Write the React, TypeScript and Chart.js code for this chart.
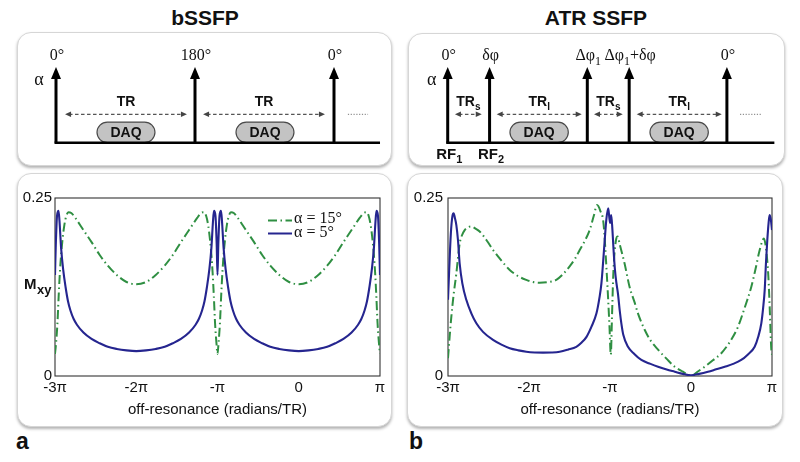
import React, { useEffect, useRef } from "react";
import { Chart, registerables } from "chart.js";
Chart.register(...registerables);

// ---------------- data ----------------
const panelTitles = ["bSSFP", "ATR SSFP"];
const panelLetters = ["a", "b"];
const xTickValues = [-3, -2, -1, 0, 1];
const xTickLabels = ["-3π", "-2π", "-π", "0", "π"];
const yTickValues = [0, 0.25];
const yTickLabels = ["0", "0.25"];
const seriesLabels = ["α = 15°", "α = 5°"];
const xAxisTitle = "off-resonance (radians/TR)";
const yAxisTitle = "M_xy";

// x in units of π, y = Mxy
const bssfpAlpha5: [number, number][] = [
  [-3, 0.142], [-2.99, 0.185], [-2.975, 0.225], [-2.957, 0.232], [-2.945, 0.218], [-2.925, 0.18], [-2.9, 0.15], [-2.87, 0.125], [-2.84, 0.105], [-2.81, 0.092], [-2.77, 0.08], [-2.73, 0.072], [-2.65, 0.061], [-2.55, 0.052], [-2.45, 0.046], [-2.35, 0.041], [-2.24, 0.038], [-2.12, 0.036], [-2, 0.035],
  [-1.88, 0.036], [-1.76, 0.038], [-1.65, 0.041], [-1.55, 0.046], [-1.45, 0.052], [-1.35, 0.061], [-1.27, 0.072], [-1.23, 0.08], [-1.19, 0.092], [-1.16, 0.105], [-1.13, 0.125], [-1.1, 0.15], [-1.075, 0.18], [-1.055, 0.218], [-1.043, 0.232], [-1.025, 0.225], [-1.01, 0.185], [-1, 0.142],
  [-0.99, 0.185], [-0.975, 0.225], [-0.957, 0.232], [-0.945, 0.218], [-0.925, 0.18], [-0.9, 0.15], [-0.87, 0.125], [-0.84, 0.105], [-0.81, 0.092], [-0.77, 0.08], [-0.73, 0.072], [-0.65, 0.061], [-0.55, 0.052], [-0.45, 0.046], [-0.35, 0.041], [-0.24, 0.038], [-0.12, 0.036], [0, 0.035],
  [0.12, 0.036], [0.24, 0.038], [0.35, 0.041], [0.45, 0.046], [0.55, 0.052], [0.65, 0.061], [0.73, 0.072], [0.77, 0.08], [0.81, 0.092], [0.84, 0.105], [0.87, 0.125], [0.9, 0.15], [0.925, 0.18], [0.945, 0.218], [0.957, 0.232], [0.975, 0.225], [0.99, 0.185], [1, 0.142],
];

const bssfpAlpha15: [number, number][] = [
  [-3, 0.031], [-2.988, 0.045], [-2.97, 0.074], [-2.955, 0.112], [-2.94, 0.145], [-2.925, 0.17], [-2.908, 0.191], [-2.885, 0.212], [-2.86, 0.225], [-2.835, 0.23], [-2.8, 0.229], [-2.75, 0.222], [-2.65, 0.205], [-2.55, 0.188], [-2.45, 0.17], [-2.35, 0.155], [-2.24, 0.142], [-2.12, 0.132], [-2, 0.129],
  [-1.88, 0.132], [-1.76, 0.142], [-1.65, 0.155], [-1.55, 0.17], [-1.45, 0.188], [-1.35, 0.205], [-1.25, 0.222], [-1.2, 0.229], [-1.165, 0.23], [-1.14, 0.225], [-1.115, 0.212], [-1.092, 0.191], [-1.075, 0.17], [-1.06, 0.145], [-1.045, 0.112], [-1.03, 0.074], [-1.012, 0.045], [-1, 0.031],
  [-0.988, 0.045], [-0.97, 0.074], [-0.955, 0.112], [-0.94, 0.145], [-0.925, 0.17], [-0.908, 0.191], [-0.885, 0.212], [-0.86, 0.225], [-0.835, 0.23], [-0.8, 0.229], [-0.75, 0.222], [-0.65, 0.205], [-0.55, 0.188], [-0.45, 0.17], [-0.35, 0.155], [-0.24, 0.142], [-0.12, 0.132], [0, 0.129],
  [0.12, 0.132], [0.24, 0.142], [0.35, 0.155], [0.45, 0.17], [0.55, 0.188], [0.65, 0.205], [0.75, 0.222], [0.8, 0.229], [0.835, 0.23], [0.86, 0.225], [0.885, 0.212], [0.908, 0.191], [0.925, 0.17], [0.94, 0.145], [0.955, 0.112], [0.97, 0.074], [0.988, 0.045], [1, 0.031],
];

const atrAlpha5: [number, number][] = [
  [-3, 0.107], [-2.985, 0.15], [-2.965, 0.2], [-2.945, 0.225], [-2.93, 0.2285], [-2.915, 0.222], [-2.897, 0.212], [-2.877, 0.191], [-2.856, 0.158], [-2.823, 0.13], [-2.774, 0.107], [-2.712, 0.088], [-2.65, 0.074], [-2.568, 0.062], [-2.444, 0.0506], [-2.34, 0.044], [-2.238, 0.039], [-2.13, 0.036], [-2.033, 0.034], [-1.93, 0.033], [-1.827, 0.0328], [-1.72, 0.033], [-1.621, 0.034], [-1.52, 0.037], [-1.416, 0.041], [-1.35, 0.047], [-1.29, 0.055], [-1.23, 0.069], [-1.167, 0.088], [-1.13, 0.11], [-1.106, 0.13], [-1.085, 0.16], [-1.065, 0.191], [-1.045, 0.22], [-1.022, 0.2355], [-1.008, 0.222], [-0.998, 0.215], [-0.985, 0.226], [-0.97, 0.205], [-0.955, 0.175], [-0.938, 0.148], [-0.92, 0.13], [-0.901, 0.115], [-0.88, 0.092], [-0.86, 0.074], [-0.836, 0.058], [-0.778, 0.041], [-0.7, 0.031], [-0.613, 0.0225], [-0.5, 0.017], [-0.407, 0.013], [-0.3, 0.009], [-0.201, 0.006], [-0.1, 0.003], [0, 0.001], [0.1, 0.003], [0.21, 0.006], [0.3, 0.009], [0.416, 0.013], [0.52, 0.017], [0.62, 0.0225], [0.7, 0.03], [0.786, 0.041], [0.83, 0.055], [0.868, 0.074], [0.89, 0.095], [0.91, 0.121], [0.926, 0.16], [0.942, 0.191], [0.958, 0.215], [0.97, 0.226], [0.985, 0.22], [1, 0.205],
];

const atrAlpha15: [number, number][] = [
  [-3, 0.025], [-2.98, 0.055], [-2.959, 0.083], [-2.93, 0.115], [-2.897, 0.144], [-2.875, 0.168], [-2.856, 0.186], [-2.83, 0.197], [-2.794, 0.205], [-2.75, 0.209], [-2.712, 0.21], [-2.66, 0.207], [-2.609, 0.203], [-2.52, 0.19], [-2.444, 0.177], [-2.34, 0.162], [-2.238, 0.149], [-2.13, 0.14], [-2.033, 0.135], [-1.95, 0.132], [-1.868, 0.131], [-1.76, 0.132], [-1.663, 0.135], [-1.58, 0.143], [-1.498, 0.154], [-1.43, 0.165], [-1.374, 0.177], [-1.31, 0.19], [-1.251, 0.205], [-1.2, 0.225], [-1.16, 0.24], [-1.12, 0.232], [-1.08, 0.214], [-1.04, 0.144], [-1.008, 0.074], [-0.99, 0.03], [-0.975, 0.085], [-0.959, 0.144], [-0.926, 0.191], [-0.905, 0.196], [-0.88, 0.185], [-0.82, 0.158], [-0.758, 0.125], [-0.695, 0.103], [-0.655, 0.088], [-0.572, 0.065], [-0.5, 0.05], [-0.407, 0.037], [-0.3, 0.024], [-0.201, 0.013], [-0.1, 0.006], [0, 0], [0.08, 0.006], [0.169, 0.013], [0.27, 0.022], [0.374, 0.032], [0.48, 0.048], [0.58, 0.069], [0.66, 0.095], [0.744, 0.125], [0.8, 0.152], [0.848, 0.177], [0.9, 0.193], [0.93, 0.175], [0.955, 0.14], [0.972, 0.095], [0.99, 0.04], [1, 0.03],
];

// pulse-sequence diagrams (time in units of TR)
const bssfpPulseTimes = [0, 1, 2];
const bssfpPulseLabels = ["0°", "180°", "0°"];
const bssfpIntervals: [number, number][] = [[0.065, 0.942], [1.058, 1.935]];
const bssfpIntervalLabels = ["TR", "TR"];
const bssfpDaq: [number, number][] = [[0.295, 0.712], [1.295, 1.712]];
const bssfpDots: [number, number] = [2.1, 2.245];
const bssfpBaseEnd = 2.331;

const atrPulseTimes = [0, 0.3, 1.0, 1.3, 2.0];
const atrPulseLabels = ["0°", "δφ", "Δφ_1", "Δφ_1+δφ", "0°"];
const atrIntervals: [number, number][] = [[0.052, 0.244], [0.351, 0.96], [1.048, 1.254], [1.354, 1.963]];
const atrIntervalLabels = ["TR_s", "TR_l", "TR_s", "TR_l"];
const atrDaq: [number, number][] = [[0.446, 0.864], [1.449, 1.867]];
const atrDots: [number, number] = [2.094, 2.249];
const atrBaseEnd = 2.34;
const atrRfPulses = [0, 1];
const atrRfLabels = ["RF_1", "RF_2"];
const flipLabel = "α";
const daqLabel = "DAQ";

// ---------------- styles ----------------
const BLUE = "#25258f";
const GREEN = "#2f8f42";
const SANS = "'Liberation Sans', Arial, sans-serif";
const SERIF = "'Liberation Serif', 'Times New Roman', serif";

function drawRich(ctx: CanvasRenderingContext2D, text: string, x: number, y: number, size: number, family: string, weight: string, align: "center" | "left") {
  const parts: { t: string; sub: boolean }[] = [];
  let buf = "";
  for (let i = 0; i < text.length; i++) {
    if (text[i] === "_" && i + 1 < text.length) {
      if (buf) parts.push({ t: buf, sub: false });
      buf = "";
      parts.push({ t: text[i + 1], sub: true });
      i++;
    } else buf += text[i];
  }
  if (buf) parts.push({ t: buf, sub: false });
  const mainF = `${weight} ${size}px ${family}`;
  const subF = `${weight} ${Math.round(size * 0.72)}px ${family}`;
  let w = 0;
  for (const p of parts) {
    ctx.font = p.sub ? subF : mainF;
    w += ctx.measureText(p.t).width;
  }
  let cx = align === "center" ? x - w / 2 : x;
  ctx.textAlign = "left";
  ctx.textBaseline = "alphabetic";
  for (const p of parts) {
    ctx.font = p.sub ? subF : mainF;
    ctx.fillText(p.t, cx, p.sub ? y + size * 0.28 : y);
    cx += ctx.measureText(p.t).width;
  }
}

type DiagramCfg = {
  pulses: number[];
  labels: string[];
  intervals: [number, number][];
  intervalLabels: string[];
  daq: [number, number][];
  dots: [number, number];
  baseEnd: number;
  alphaX: number;
  rfPulses?: number[];
  rfLabels?: string[];
};

function diagramPlugin(cfg: DiagramCfg) {
  return {
    id: "pulseDiagram",
    afterDraw(chart: any) {
      const ctx: CanvasRenderingContext2D = chart.ctx;
      const X = (v: number) => chart.scales.x.getPixelForValue(v);
      const Y = (v: number) => chart.scales.y.getPixelForValue(v);
      ctx.save();
      // DAQ pills
      cfg.daq.forEach(([a, b]) => {
        const x0 = X(a), x1 = X(b), y0 = Y(0.273), y1 = Y(0);
        const r = (y1 - y0) / 2;
        ctx.beginPath();
        ctx.moveTo(x0 + r, y0);
        ctx.lineTo(x1 - r, y0);
        ctx.arc(x1 - r, y0 + r, r, -Math.PI / 2, Math.PI / 2);
        ctx.lineTo(x0 + r, y1);
        ctx.arc(x0 + r, y0 + r, r, Math.PI / 2, Math.PI * 1.5);
        ctx.closePath();
        ctx.fillStyle = "#c3c3c3";
        ctx.fill();
        ctx.lineWidth = 1.2;
        ctx.strokeStyle = "#4a4a4a";
        ctx.stroke();
        ctx.fillStyle = "#111";
        ctx.font = `bold 14px ${SANS}`;
        ctx.textAlign = "center";
        ctx.textBaseline = "middle";
        ctx.fillText(daqLabel, (x0 + x1) / 2, (y0 + y1) / 2 + 0.5);
      });
      // baseline
      ctx.strokeStyle = "#000";
      ctx.lineWidth = 2.6;
      ctx.lineCap = "butt";
      ctx.beginPath();
      ctx.moveTo(X(0) - 1.5, Y(0));
      ctx.lineTo(X(cfg.baseEnd), Y(0));
      ctx.stroke();
      // pulses
      cfg.pulses.forEach((t, i) => {
        const x = X(t);
        const tip = Y(1);
        ctx.lineWidth = 3;
        ctx.strokeStyle = "#000";
        ctx.beginPath();
        ctx.moveTo(x, Y(0));
        ctx.lineTo(x, tip + 10);
        ctx.stroke();
        ctx.fillStyle = "#000";
        ctx.beginPath();
        ctx.moveTo(x, tip);
        ctx.lineTo(x - 5, tip + 12);
        ctx.lineTo(x + 5, tip + 12);
        ctx.closePath();
        ctx.fill();
        ctx.fillStyle = "#111";
        drawRich(ctx, cfg.labels[i], x + 1, Y(1.092), 16, SERIF, "normal", "center");
      });
      // alpha
      ctx.fillStyle = "#111";
      drawRich(ctx, flipLabel, X(cfg.alphaX), Y(0.762), 18, SERIF, "normal", "center");
      // interval arrows
      cfg.intervals.forEach(([a, b], i) => {
        const x0 = X(a), x1 = X(b), y = Y(0.375);
        ctx.strokeStyle = "#555";
        ctx.fillStyle = "#444";
        ctx.lineWidth = 1.2;
        ctx.setLineDash([3.5, 2.5]);
        ctx.beginPath();
        ctx.moveTo(x0 + 4, y);
        ctx.lineTo(x1 - 4, y);
        ctx.stroke();
        ctx.setLineDash([]);
        ctx.beginPath();
        ctx.moveTo(x0, y);
        ctx.lineTo(x0 + 6, y - 2.8);
        ctx.lineTo(x0 + 6, y + 2.8);
        ctx.closePath();
        ctx.fill();
        ctx.beginPath();
        ctx.moveTo(x1, y);
        ctx.lineTo(x1 - 6, y - 2.8);
        ctx.lineTo(x1 - 6, y + 2.8);
        ctx.closePath();
        ctx.fill();
        ctx.fillStyle = "#111";
        drawRich(ctx, cfg.intervalLabels[i], (x0 + x1) / 2, Y(0.485), 14, SANS, "bold", "center");
      });
      // continuation dots
      ctx.strokeStyle = "#777";
      ctx.lineWidth = 1;
      ctx.setLineDash([1.2, 1.6]);
      ctx.beginPath();
      ctx.moveTo(X(cfg.dots[0]), Y(0.375));
      ctx.lineTo(X(cfg.dots[1]), Y(0.375));
      ctx.stroke();
      ctx.setLineDash([]);
      // RF labels
      if (cfg.rfPulses && cfg.rfLabels) {
        ctx.fillStyle = "#111";
        cfg.rfPulses.forEach((pi, i) => {
          drawRich(ctx, cfg.rfLabels![i], X(cfg.pulses[pi]) + 1.5, Y(-0.215), 15, SANS, "bold", "center");
        });
      }
      ctx.restore();
    },
  };
}

const framePlugin = {
  id: "plotFrame",
  beforeDatasetsDraw(chart: any) {
    const { ctx, chartArea: a } = chart;
    ctx.save();
    ctx.strokeStyle = "#333";
    ctx.lineWidth = 1.1;
    ctx.strokeRect(a.left, a.top, a.right - a.left, a.bottom - a.top);
    ctx.restore();
  },
};

const legendPlugin = {
  id: "inlineLegend",
  afterDatasetsDraw(chart: any) {
    const { ctx, chartArea: a } = chart;
    ctx.save();
    chart.data.datasets.forEach((ds: any, i: number) => {
      const y = a.top + 22.5 + i * 13;
      ctx.strokeStyle = ds.borderColor;
      ctx.lineWidth = 2;
      ctx.setLineDash(ds.borderDash || []);
      ctx.beginPath();
      ctx.moveTo(a.left + 213, y);
      ctx.lineTo(a.left + 237, y);
      ctx.stroke();
      ctx.setLineDash([]);
      ctx.fillStyle = "#111";
      ctx.font = `16px ${SERIF}`;
      ctx.textAlign = "left";
      ctx.textBaseline = "alphabetic";
      ctx.fillText(ds.label, a.left + 239, y + 2 + i * 1.5);
    });
    ctx.restore();
  },
};

const mxyPlugin = {
  id: "mxyLabel",
  afterDraw(chart: any) {
    const { ctx, chartArea: a } = chart;
    ctx.save();
    ctx.fillStyle = "#111";
    ctx.textAlign = "left";
    ctx.textBaseline = "alphabetic";
    ctx.font = `bold 15px ${SANS}`;
    const [m, sub] = yAxisTitle.split("_");
    const x = a.left - 31;
    const y = a.top + 91;
    ctx.fillText(m, x, y);
    const w = ctx.measureText(m).width;
    ctx.font = `bold 13px ${SANS}`;
    ctx.fillText(sub, x + w + 0.5, y + 5);
    ctx.restore();
  },
};

type PlotProps = {
  left: number; top: number; w: number; h: number;
  yWidth: number; padRight: number; yPad: number;
  a15: [number, number][]; a5: [number, number][];
  legend: boolean; mxy: boolean;
};

function PlotChart(p: PlotProps) {
  const ref = useRef<HTMLCanvasElement>(null);
  useEffect(() => {
    const plugins: any[] = [framePlugin];
    if (p.legend) plugins.push(legendPlugin);
    if (p.mxy) plugins.push(mxyPlugin);
    const chart = new Chart(ref.current!, {
      type: "line",
      data: {
        datasets: [
          {
            label: seriesLabels[0],
            data: p.a15.map(([x, y]) => ({ x, y })),
            borderColor: GREEN,
            borderWidth: 2,
            borderDash: [9, 3.5, 1.5, 3.5],
            pointRadius: 0,
            cubicInterpolationMode: "monotone",
            fill: false,
            order: 2,
          },
          {
            label: seriesLabels[1],
            data: p.a5.map(([x, y]) => ({ x, y })),
            borderColor: BLUE,
            borderWidth: 2.1,
            pointRadius: 0,
            cubicInterpolationMode: "monotone",
            fill: false,
            order: 1,
          },
        ] as any,
      },
      options: {
        responsive: false,
        animation: false,
        events: [],
        layout: { padding: { top: 25, right: p.padRight, left: 0, bottom: 0 } },
        plugins: { legend: { display: false }, tooltip: { enabled: false }, title: { display: false } },
        scales: {
          x: {
            type: "linear",
            min: -3,
            max: 1,
            grid: { display: false, drawTicks: false },
            border: { display: false },
            afterBuildTicks: (s: any) => { s.ticks = xTickValues.map((v) => ({ value: v })); },
            afterFit: (s: any) => { s.height = 51; },
            ticks: {
              padding: 3,
              color: "#111",
              font: { family: SANS, size: 15 },
              maxRotation: 0,
              autoSkip: false,
              callback: (v: any) => xTickLabels[xTickValues.indexOf(Number(v))] ?? "",
            },
            title: {
              display: true,
              text: xAxisTitle,
              color: "#111",
              font: { family: SANS, size: 15 },
              padding: { top: 0, bottom: 8 },
            },
          },
          y: {
            type: "linear",
            min: 0,
            max: 0.25,
            grid: { display: false, drawTicks: false },
            border: { display: false },
            afterBuildTicks: (s: any) => { s.ticks = yTickValues.map((v) => ({ value: v })); },
            afterFit: (s: any) => { s.width = p.yWidth; },
            ticks: {
              padding: p.yPad,
              color: "#111",
              font: { family: SANS, size: 15 },
              autoSkip: false,
              callback: (v: any) => yTickLabels[yTickValues.indexOf(Number(v))] ?? "",
            },
          },
        },
      } as any,
      plugins,
    });
    return () => chart.destroy();
  }, []);
  return (
    <canvas
      ref={ref}
      width={p.w}
      height={p.h}
      style={{ position: "absolute", left: p.left, top: p.top, width: p.w, height: p.h }}
    />
  );
}

type DiagramProps = {
  left: number; top: number; w: number; h: number;
  x0px: number; pxPerUnit: number; baseYpx: number; pxPerY: number;
  cfg: DiagramCfg;
};

function DiagramChart(p: DiagramProps) {
  const ref = useRef<HTMLCanvasElement>(null);
  useEffect(() => {
    const xmin = -(p.x0px - p.left) / p.pxPerUnit;
    const xmax = xmin + p.w / p.pxPerUnit;
    const ymax = (p.baseYpx - p.top) / p.pxPerY;
    const ymin = ymax - p.h / p.pxPerY;
    const chart = new Chart(ref.current!, {
      type: "line",
      data: { datasets: [] },
      options: {
        responsive: false,
        animation: false,
        events: [],
        layout: { padding: 0 },
        plugins: { legend: { display: false }, tooltip: { enabled: false } },
        scales: {
          x: { type: "linear", display: false, min: xmin, max: xmax },
          y: { type: "linear", display: false, min: ymin, max: ymax },
        },
      } as any,
      plugins: [diagramPlugin(p.cfg)],
    });
    return () => chart.destroy();
  }, []);
  return (
    <canvas
      ref={ref}
      width={p.w}
      height={p.h}
      style={{ position: "absolute", left: p.left, top: p.top, width: p.w, height: p.h }}
    />
  );
}

const boxStyle = (left: number, top: number, w: number, h: number): React.CSSProperties => ({
  position: "absolute",
  left,
  top,
  width: w - 2,
  height: h - 2,
  border: "1px solid #d6d6d6",
  borderRadius: 14,
  background: "#fff",
  boxShadow: "0 2px 3px rgba(0,0,0,0.30)",
});

export default function App() {
  return (
    <div style={{ position: "absolute", left: 0, top: 0, width: 800, height: 462, background: "#fff", overflow: "hidden", fontFamily: SANS }}>
      <div style={{ position: "absolute", left: 105, top: 7, width: 200, textAlign: "center", font: `bold 21px ${SANS}`, lineHeight: "21px", color: "#111" }}>{panelTitles[0]}</div>
      <div style={{ position: "absolute", left: 496, top: 7, width: 200, textAlign: "center", font: `bold 21px ${SANS}`, lineHeight: "21px", color: "#111" }}>{panelTitles[1]}</div>

      <div style={boxStyle(17, 32, 375, 134)} />
      <div style={boxStyle(408, 33, 377, 133)} />
      <div style={boxStyle(17, 173, 375, 254)} />
      <div style={boxStyle(407, 173, 376, 254)} />

      <DiagramChart
        left={17} top={32} w={375} h={134}
        x0px={56} pxPerUnit={139} baseYpx={142.7} pxPerY={75.7}
        cfg={{
          pulses: bssfpPulseTimes, labels: bssfpPulseLabels, intervals: bssfpIntervals,
          intervalLabels: bssfpIntervalLabels, daq: bssfpDaq, dots: bssfpDots, baseEnd: bssfpBaseEnd, alphaX: -0.122,
        }}
      />
      <DiagramChart
        left={408} top={33} w={377} h={133}
        x0px={447.7} pxPerUnit={139.6} baseYpx={142.7} pxPerY={75.7}
        cfg={{
          pulses: atrPulseTimes, labels: atrPulseLabels, intervals: atrIntervals,
          intervalLabels: atrIntervalLabels, daq: atrDaq, dots: atrDots, baseEnd: atrBaseEnd, alphaX: -0.115,
          rfPulses: atrRfPulses, rfLabels: atrRfLabels,
        }}
      />

      <PlotChart left={17} top={173} w={375} h={254} yWidth={38} padRight={12} yPad={3}
        a15={bssfpAlpha15} a5={bssfpAlpha5} legend={true} mxy={true} />
      <PlotChart left={407} top={173} w={376} h={254} yWidth={41} padRight={11} yPad={5}
        a15={atrAlpha15} a5={atrAlpha5} legend={false} mxy={false} />

      <div style={{ position: "absolute", left: 16, top: 430, font: `bold 23px ${SANS}`, lineHeight: "23px", color: "#111" }}>{panelLetters[0]}</div>
      <div style={{ position: "absolute", left: 409, top: 430, font: `bold 23px ${SANS}`, lineHeight: "23px", color: "#111" }}>{panelLetters[1]}</div>
    </div>
  );
}
